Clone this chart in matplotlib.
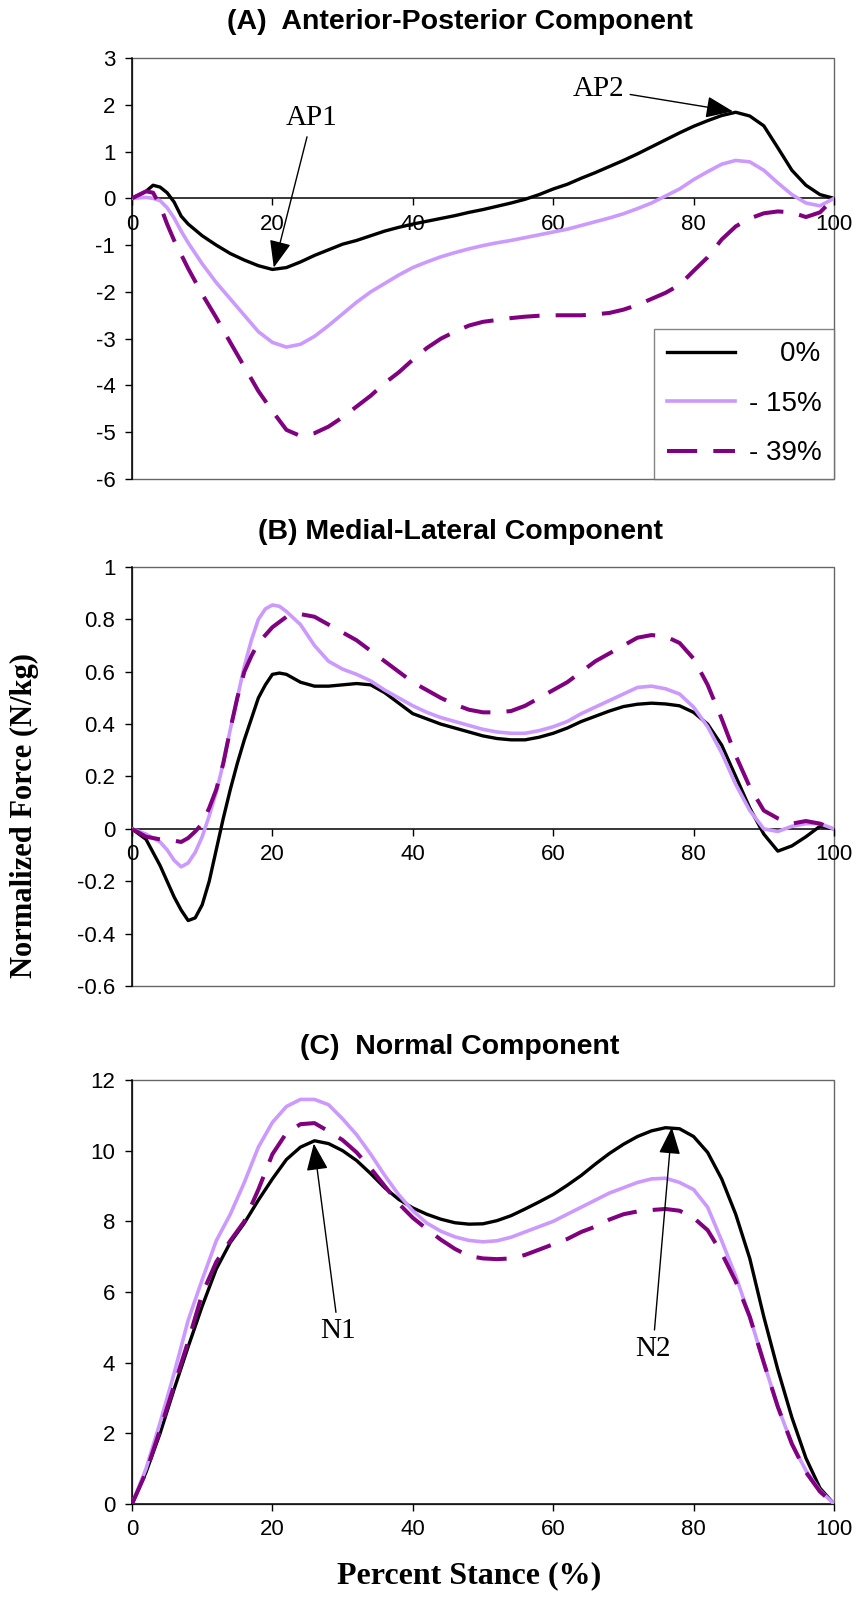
import matplotlib
matplotlib.use("Agg")
import matplotlib.pyplot as plt
from matplotlib.patches import Rectangle

# ---------------- data ----------------
series_labels = ["    0%", "- 15%", "- 39%"]

# (A) Anterior-Posterior
stance_ap = [0, 2, 3, 4, 5, 6, 7, 8, 10, 12, 14, 16, 18, 20, 22, 24, 26, 28, 30, 32, 34, 36, 38, 40,
             42, 44, 46, 48, 50, 52, 54, 56, 58, 60, 62, 64, 66, 68, 70, 72, 74, 76, 78, 80, 82, 84,
             86, 88, 90, 92, 94, 96, 98, 100]
ap_0 = [0, 0.15, 0.28, 0.24, 0.12, -0.08, -0.38, -0.55, -0.8, -1.0, -1.18, -1.32, -1.44, -1.52, -1.48,
        -1.36, -1.22, -1.1, -0.98, -0.9, -0.8, -0.7, -0.62, -0.55, -0.49, -0.43, -0.37, -0.3, -0.24,
        -0.17, -0.1, -0.02, 0.08, 0.2, 0.3, 0.43, 0.55, 0.68, 0.81, 0.95, 1.1, 1.25, 1.4, 1.54, 1.66,
        1.77, 1.84, 1.76, 1.55, 1.08, 0.6, 0.28, 0.08, 0.0]
ap_15 = [0, 0.02, 0.0, -0.05, -0.2, -0.42, -0.7, -0.95, -1.4, -1.8, -2.15, -2.5, -2.85, -3.08, -3.18,
         -3.12, -2.95, -2.72, -2.47, -2.22, -2.0, -1.82, -1.64, -1.48, -1.36, -1.25, -1.16, -1.08,
         -1.01, -0.95, -0.9, -0.84, -0.78, -0.72, -0.66, -0.58, -0.5, -0.42, -0.33, -0.22, -0.1, 0.05,
         0.2, 0.4, 0.57, 0.73, 0.81, 0.78, 0.6, 0.33, 0.08, -0.1, -0.16, 0.0]
ap_39 = [0, 0.15, 0.12, -0.15, -0.55, -0.9, -1.2, -1.5, -2.05, -2.55, -3.08, -3.6, -4.12, -4.55, -4.95,
         -5.08, -5.02, -4.88, -4.68, -4.45, -4.22, -3.95, -3.72, -3.45, -3.2, -3.0, -2.85, -2.72, -2.64,
         -2.6, -2.56, -2.53, -2.51, -2.5, -2.5, -2.5, -2.48, -2.45, -2.38, -2.28, -2.15, -2.02, -1.85,
         -1.55, -1.26, -0.88, -0.6, -0.43, -0.32, -0.28, -0.3, -0.4, -0.3, 0.0]

# (B) Medial-Lateral
stance_ml = [0, 2, 4, 5, 6, 7, 8, 9, 10, 11, 12, 13, 14, 15, 16, 17, 18, 19, 20, 21, 22, 24, 26, 28, 30,
             32, 34, 36, 38, 40, 42, 44, 46, 48, 50, 52, 54, 56, 58, 60, 62, 64, 66, 68, 70, 72, 74, 76,
             78, 80, 82, 84, 86, 88, 90, 92, 94, 96, 98, 100]
ml_0 = [0, -0.04, -0.14, -0.2, -0.26, -0.31, -0.35, -0.34, -0.29, -0.2, -0.08, 0.04, 0.15, 0.25, 0.34,
        0.42, 0.5, 0.55, 0.59, 0.595, 0.59, 0.56, 0.545, 0.545, 0.55, 0.555, 0.55, 0.52, 0.48, 0.44,
        0.42, 0.4, 0.385, 0.37, 0.355, 0.345, 0.34, 0.34, 0.35, 0.365, 0.385, 0.41, 0.43, 0.45, 0.467,
        0.476, 0.48, 0.477, 0.47, 0.445, 0.4, 0.32, 0.2, 0.08, -0.02, -0.085, -0.065, -0.03, 0.01, 0.0]
ml_15 = [0, -0.02, -0.05, -0.08, -0.12, -0.145, -0.13, -0.09, -0.03, 0.05, 0.14, 0.25, 0.38, 0.5, 0.62,
         0.72, 0.8, 0.84, 0.855, 0.85, 0.83, 0.78, 0.7, 0.64, 0.61, 0.59, 0.565, 0.53, 0.5, 0.47, 0.445,
         0.425, 0.41, 0.395, 0.38, 0.37, 0.365, 0.365, 0.375, 0.39, 0.41, 0.44, 0.465, 0.49, 0.515,
         0.54, 0.545, 0.535, 0.515, 0.465, 0.39, 0.29, 0.17, 0.07, 0.0, -0.01, 0.01, 0.02, 0.02, 0.0]
ml_39 = [0, -0.03, -0.04, -0.042, -0.045, -0.05, -0.035, -0.01, 0.02, 0.08, 0.15, 0.25, 0.38, 0.5, 0.6,
         0.66, 0.71, 0.74, 0.77, 0.79, 0.81, 0.82, 0.81, 0.78, 0.75, 0.72, 0.68, 0.64, 0.6, 0.56, 0.53,
         0.5, 0.475, 0.455, 0.445, 0.445, 0.45, 0.47, 0.5, 0.53, 0.56, 0.6, 0.64, 0.67, 0.7, 0.73,
         0.74, 0.735, 0.71, 0.65, 0.55, 0.42, 0.28, 0.16, 0.07, 0.04, 0.02, 0.03, 0.02, 0.0]

# (C) Normal
stance_n = list(range(0, 101, 2))
n_0 = [0, 0.9, 2.0, 3.25, 4.45, 5.6, 6.65, 7.4, 7.95, 8.6, 9.2, 9.75, 10.1, 10.28, 10.2, 10.0, 9.72,
       9.35, 8.95, 8.62, 8.38, 8.2, 8.06, 7.96, 7.92, 7.93, 8.02, 8.16, 8.35, 8.55, 8.76, 9.02, 9.3,
       9.62, 9.92, 10.18, 10.4, 10.56, 10.65, 10.62, 10.4, 9.95, 9.2, 8.2, 6.95, 5.3, 3.8, 2.45, 1.3,
       0.45, 0.0]
n_15 = [0, 1.0, 2.3, 3.7, 5.2, 6.35, 7.45, 8.2, 9.1, 10.1, 10.8, 11.25, 11.45, 11.45, 11.3, 10.9,
        10.45, 9.9, 9.3, 8.75, 8.3, 7.95, 7.72, 7.56, 7.46, 7.42, 7.45, 7.55, 7.7, 7.85, 8.0, 8.2, 8.4,
        8.6, 8.8, 8.95, 9.1, 9.2, 9.22, 9.1, 8.9, 8.4, 7.45, 6.45, 5.3, 4.0, 2.75, 1.7, 0.95, 0.38, 0.0]
n_39 = [0, 0.9, 2.1, 3.35, 4.6, 5.95, 6.85, 7.45, 8.0, 8.9, 9.9, 10.5, 10.75, 10.78, 10.55, 10.3,
        9.95, 9.5, 9.0, 8.5, 8.1, 7.78, 7.48, 7.22, 7.02, 6.95, 6.93, 6.95, 7.05, 7.2, 7.35, 7.5, 7.7,
        7.85, 8.05, 8.2, 8.28, 8.32, 8.35, 8.3, 8.1, 7.75, 7.1, 6.3, 5.3, 4.0, 2.75, 1.7, 0.9, 0.35, 0.0]

x_ticks = [0, 20, 40, 60, 80, 100]
x_ticklabels = ["0", "20", "40", "60", "80", "100"]
ap_ticks = [3, 2, 1, 0, -1, -2, -3, -4, -5, -6]
ap_ticklabels = ["3", "2", "1", "0", "-1", "-2", "-3", "-4", "-5", "-6"]
ml_ticks = [1, 0.8, 0.6, 0.4, 0.2, 0, -0.2, -0.4, -0.6]
ml_ticklabels = ["1", "0.8", "0.6", "0.4", "0.2", "0", "-0.2", "-0.4", "-0.6"]
n_ticks = [12, 10, 8, 6, 4, 2, 0]
n_ticklabels = ["12", "10", "8", "6", "4", "2", "0"]

titles = ["(A)  Anterior-Posterior Component", "(B) Medial-Lateral Component", "(C)  Normal Component"]

# ---------------- style ----------------
SANS = ["Liberation Sans", "DejaVu Sans"]
SERIF = ["Liberation Serif", "DejaVu Serif"]
plt.rcParams["font.family"] = SANS
BLACK = "#000000"
LIGHT = "#CC99FF"
DARK = "#800080"
DASH = (0, (7.5, 4.0))
W, H = 859, 1600

fig = plt.figure(figsize=(W / 100, H / 100), dpi=100)


def add_axes(top_px, bottom_px):
    left, right = 132, 834
    return fig.add_axes([left / W, 1 - bottom_px / H, (right - left) / W, (bottom_px - top_px) / H])


def style(ax, ylim, yticks, yticklabels, zero_axis):
    for s in ["top", "right"]:
        ax.spines[s].set_visible(False)
    if zero_axis:
        ax.spines["bottom"].set_position(("data", 0))
    ax.spines["left"].set_color("black")
    ax.spines["left"].set_linewidth(1.1)
    ax.spines["bottom"].set_color("black")
    ax.spines["bottom"].set_linewidth(1.1)
    ax.spines["bottom"].set_zorder(1.5)
    ax.set_xlim(0, 100)
    ax.set_ylim(*ylim)
    ax.set_xticks(x_ticks)
    ax.set_xticklabels(x_ticklabels)
    ax.set_yticks(yticks)
    ax.set_yticklabels(yticklabels)
    ax.tick_params(axis="both", direction="out", length=5, width=1, color="black", labelsize=16)
    ax.tick_params(axis="y", pad=7)
    ax.tick_params(axis="x", pad=6)
    border = Rectangle((0, 0), 1, 1, transform=ax.transAxes, fill=False,
                       edgecolor="#666666", linewidth=1.0, zorder=1.4, clip_on=False)
    ax.add_patch(border)


def draw(ax, x, y0, y15, y39):
    l1, = ax.plot(x, y0, color=BLACK, lw=2.4, zorder=3, solid_joinstyle="round")
    l2, = ax.plot(x, y15, color=LIGHT, lw=2.6, zorder=3, solid_joinstyle="round")
    l3, = ax.plot(x, y39, color=DARK, lw=2.9, linestyle=DASH, zorder=3)
    return [l1, l2, l3]


arrow_kw = dict(arrowstyle="-|>,head_length=0.8,head_width=0.32", color="black", lw=1.0,
                shrinkA=2, shrinkB=0)

# Panel A
axA = add_axes(58, 479)
style(axA, (-6, 3), ap_ticks, ap_ticklabels, True)
handles = draw(axA, stance_ap, ap_0, ap_15, ap_39)
leg = axA.legend(handles, series_labels, loc="lower right", bbox_to_anchor=(1.0, 0.0),
                 prop={"family": SANS, "size": 20}, frameon=True, fancybox=False,
                 edgecolor="#666666", borderaxespad=0, handlelength=2.45, handletextpad=0.5,
                 labelspacing=0.85, borderpad=0.45)
leg.get_frame().set_linewidth(1.0)
leg.get_frame().set_facecolor("white")
axA.annotate("AP1", xy=(20.2, -1.48), xytext=(25.6, 1.71), ha="center", va="center",
             fontsize=21, family=SERIF, arrowprops=arrow_kw)
axA.annotate("AP2", xy=(85.6, 1.86), xytext=(66.5, 2.33), ha="center", va="center",
             fontsize=21, family=SERIF, arrowprops=arrow_kw)

# Panel B
axB = add_axes(567, 986)
style(axB, (-0.6, 1.0), ml_ticks, ml_ticklabels, True)
draw(axB, stance_ml, ml_0, ml_15, ml_39)

# Panel C
axC = add_axes(1080, 1504)
style(axC, (0, 12), n_ticks, n_ticklabels, False)
draw(axC, stance_n, n_0, n_15, n_39)
axC.annotate("N1", xy=(25.9, 10.2), xytext=(29.4, 4.9), ha="center", va="center",
             fontsize=21, family=SERIF, arrowprops=arrow_kw)
axC.annotate("N2", xy=(76.9, 10.66), xytext=(74.2, 4.4), ha="center", va="center",
             fontsize=21, family=SERIF, arrowprops=arrow_kw)

# titles
for t, ypx in zip(titles, [22, 532, 1047]):
    fig.text(460 / W, 1 - ypx / H, t, ha="center", va="center", fontsize=20.5,
             fontweight="bold", family=SANS)

fig.text(24 / W, 1 - 815 / H, "Normalized Force (N/kg)", rotation=90, ha="center", va="center",
         fontsize=22, fontweight="bold", family=SERIF)
fig.text(469 / W, 1 - 1576 / H, "Percent Stance (%)", ha="center", va="center",
         fontsize=23, fontweight="bold", family=SERIF)

fig.savefig("out.png", dpi=100, facecolor="white")
